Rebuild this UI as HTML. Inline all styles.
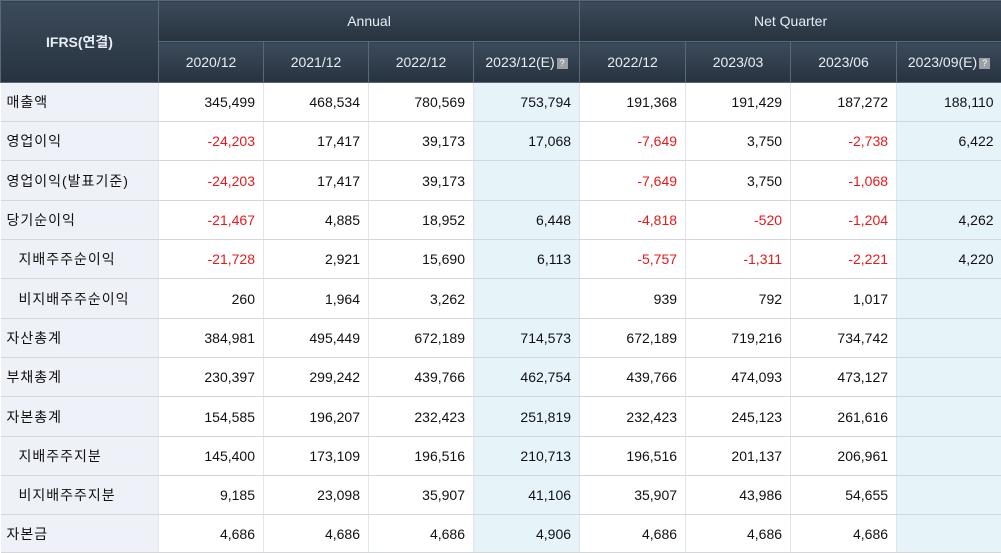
<!DOCTYPE html>
<html><head><meta charset="utf-8"><style>
body{margin:0;width:1001px;height:552px;overflow:hidden;background:#fff;font-family:"Liberation Sans","Noto Sans CJK KR",sans-serif;}
table{border-collapse:collapse;table-layout:fixed;width:1001px;}
th{background:linear-gradient(#3c4b5b,#27323f);color:#e8eef4;font-weight:normal;font-size:14px;border:1px solid #5a6877;padding:0;}
th.corner{font-weight:bold;font-size:14px;}
td{border-bottom:1px solid #d4d6da;border-left:1px solid #e2e4e8;font-size:14px;text-align:right;padding:0 8px 0 0;color:#111;}
td.lbl{background:#eef2f8;text-align:left;padding-left:6px;letter-spacing:1px;border-left:none;}
td.sub{padding-left:18px;}
td.est{background:#e6f4fa;}
.neg{color:#e8191c;}
.q{display:inline-block;width:11px;height:11px;background:#9aa0a6;color:#fff;font-size:9px;line-height:11px;text-align:center;vertical-align:1px;margin-left:2px;}
</style></head><body>
<table>
<colgroup><col style="width:158px"><col style="width:105px"><col style="width:105px"><col style="width:105px"><col style="width:106px"><col style="width:106px"><col style="width:105px"><col style="width:106px"><col style="width:105px"></colgroup>
<tr style="height:41px"><th class="corner" rowspan="2">IFRS(연결)</th><th colspan="4">Annual</th><th colspan="4">Net Quarter</th></tr>
<tr style="height:41px"><th>2020/12</th><th>2021/12</th><th>2022/12</th><th>2023/12(E)<span class="q">?</span></th><th>2022/12</th><th>2023/03</th><th>2023/06</th><th>2023/09(E)<span class="q">?</span></th></tr>
<tbody id="body"></tbody>
</table>
<script>
const labels=["매출액","영업이익","영업이익(발표기준)","당기순이익","지배주주순이익","비지배주주순이익","자산총계","부채총계","자본총계","지배주주지분","비지배주주지분","자본금"];
const subRows=[4,5,9,10];
const values=[
["345,499","468,534","780,569","753,794","191,368","191,429","187,272","188,110"],
["-24,203","17,417","39,173","17,068","-7,649","3,750","-2,738","6,422"],
["-24,203","17,417","39,173","","-7,649","3,750","-1,068",""],
["-21,467","4,885","18,952","6,448","-4,818","-520","-1,204","4,262"],
["-21,728","2,921","15,690","6,113","-5,757","-1,311","-2,221","4,220"],
["260","1,964","3,262","","939","792","1,017",""],
["384,981","495,449","672,189","714,573","672,189","719,216","734,742",""],
["230,397","299,242","439,766","462,754","439,766","474,093","473,127",""],
["154,585","196,207","232,423","251,819","232,423","245,123","261,616",""],
["145,400","173,109","196,516","210,713","196,516","201,137","206,961",""],
["9,185","23,098","35,907","41,106","35,907","43,986","54,655",""],
["4,686","4,686","4,686","4,906","4,686","4,686","4,686",""]];
const heights=[39,39,40,39,39,40,39,39,40,39,39,38];
const tb=document.getElementById('body');
labels.forEach((l,i)=>{
 const tr=document.createElement('tr');tr.style.height=heights[i]+'px';
 
 
 const th=document.createElement('td');th.className='lbl'+(subRows.includes(i)?' sub':'');th.textContent=l;
 
 
 tr.appendChild(th);
 values[i].forEach((v,j)=>{
  const td=document.createElement('td');td.textContent=v;
  let c=(j===3||j===7)?'est':'';if(v.startsWith('-'))c+=' neg';td.className=c;
  
  
  tr.appendChild(td);
 });
 tb.appendChild(tr);
});
</script>
</body></html>
